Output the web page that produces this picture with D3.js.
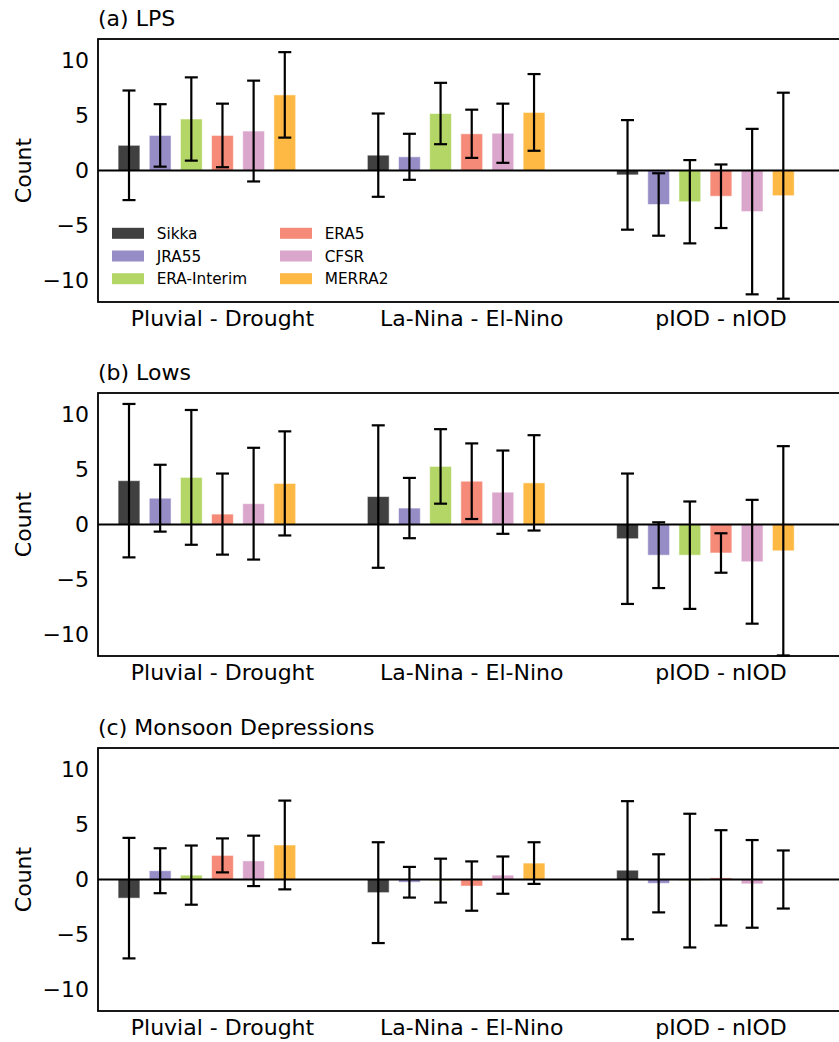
<!DOCTYPE html>
<html>
<head>
<meta charset="utf-8">
<script src="https://cdn.jsdelivr.net/npm/d3@7/dist/d3.min.js"></script>
<style>
  html, body { margin: 0; padding: 0; background: #fff; }
  svg { display: block; font-family: "DejaVu Sans", sans-serif; }
</style>
</head>
<body>
<svg id="chart" width="839" height="1042"></svg>
<script>
// Composite differences (count) for each dataset and contrast
const datasets = ["Sikka", "JRA55", "ERA-Interim", "ERA5", "CFSR", "MERRA2"];
const colors = ["#404040", "#968cc6", "#b3d667", "#f58a78", "#daa6cc", "#fdb943"];
const contrasts = ["Pluvial - Drought", "La-Nina - El-Nino", "pIOD - nIOD"];
const panelTitles = ["(a) LPS", "(b) Lows", "(c) Monsoon Depressions"];
const yTicks = [10, 5, 0, -5, -10];

// mean differences: one row per contrast, one value per dataset
const lpsMean = [
  [2.3, 3.2, 4.7, 3.2, 3.6, 6.9],
  [1.4, 1.25, 5.2, 3.35, 3.4, 5.3],
  [-0.4, -3.1, -2.85, -2.35, -3.75, -2.3]
];
const lpsErr = [
  [5.0, 2.85, 3.8, 2.9, 4.6, 3.9],
  [3.8, 2.1, 2.8, 2.2, 2.7, 3.5],
  [5.0, 2.85, 3.8, 2.9, 7.55, 9.4]
];
const lowsMean = [
  [4.0, 2.4, 4.3, 0.95, 1.9, 3.75],
  [2.55, 1.5, 5.3, 3.95, 2.95, 3.8],
  [-1.3, -2.8, -2.8, -2.6, -3.4, -2.4]
];
const lowsErr = [
  [7.0, 3.05, 6.15, 3.7, 5.1, 4.75],
  [6.5, 2.75, 3.4, 3.45, 3.8, 4.35],
  [5.95, 3.0, 4.9, 1.8, 5.65, 9.55]
];
const mdMean = [
  [-1.7, 0.8, 0.4, 2.2, 1.7, 3.15],
  [-1.2, -0.25, -0.1, -0.6, 0.4, 1.5],
  [0.85, -0.35, -0.1, 0.15, -0.4, 0.0]
];
const mdErr = [
  [5.5, 2.05, 2.7, 1.55, 2.3, 4.05],
  [4.6, 1.4, 2.0, 2.25, 1.7, 1.9],
  [6.3, 2.65, 6.1, 4.35, 4.0, 2.65]
];

const panels = [
  { title: panelTitles[0], mean: lpsMean, err: lpsErr, top: 39, legend: true },
  { title: panelTitles[1], mean: lowsMean, err: lowsErr, top: 393, legend: false },
  { title: panelTitles[2], mean: mdMean, err: mdErr, top: 748, legend: false }
];

const svg = d3.select("#chart");
const plotLeft = 98, plotRight = 850, plotHeight = 263;
const slotsPerGroup = 8;
const labelSlot = 3; // category tick sits on the fourth bar of each group

// bar slot positions: group g, dataset k -> slot g*8 + k
const x = d3.scaleLinear().domain([0, 21]).range([129, 783.3]);
const slotW = x(1) - x(0);
const barW = slotW * 0.7;
const capW = 13;

panels.forEach(p => {
  const y = d3.scaleLinear().domain([-12, 12]).range([p.top + plotHeight, p.top]);
  const g = svg.append("g");

  // panel title
  g.append("text")
    .attr("x", plotLeft).attr("y", p.top - 13)
    .attr("font-size", 22).attr("fill", "#000")
    .text(p.title);

  // bars
  p.mean.forEach((row, gi) => {
    row.forEach((v, k) => {
      const cx = x(gi * slotsPerGroup + k);
      g.append("rect")
        .attr("x", cx - barW / 2)
        .attr("y", Math.min(y(v), y(0)))
        .attr("width", barW)
        .attr("height", Math.abs(y(v) - y(0)))
        .attr("fill", colors[k])
        .attr("stroke", "rgba(255,255,255,0.55)")
        .attr("stroke-width", 1);
    });
  });

  // zero line
  g.append("line")
    .attr("x1", plotLeft).attr("x2", plotRight)
    .attr("y1", y(0)).attr("y2", y(0))
    .attr("stroke", "#000").attr("stroke-width", 2);

  // error bars
  p.mean.forEach((row, gi) => {
    row.forEach((v, k) => {
      const cx = x(gi * slotsPerGroup + k);
      const e = p.err[gi][k];
      const eb = g.append("g").attr("stroke", "#000").attr("stroke-width", 2.2);
      eb.append("line").attr("x1", cx).attr("x2", cx).attr("y1", y(v + e)).attr("y2", y(v - e));
      [v + e, v - e].forEach(t => {
        eb.append("line")
          .attr("x1", cx - capW / 2).attr("x2", cx + capW / 2)
          .attr("y1", y(t)).attr("y2", y(t));
      });
    });
  });

  // frame
  g.append("rect")
    .attr("x", plotLeft).attr("y", p.top)
    .attr("width", plotRight - plotLeft).attr("height", plotHeight)
    .attr("fill", "none").attr("stroke", "#000").attr("stroke-width", 1.8);

  // y tick labels
  const yAxis = d3.axisLeft(y).tickValues(yTicks).tickSize(0).tickPadding(9)
    .tickFormat(d => d < 0 ? "\u2212" + Math.abs(d) : String(d));
  const ya = g.append("g").attr("transform", `translate(${plotLeft},0)`).call(yAxis);
  ya.select(".domain").remove();
  ya.selectAll("text").attr("font-size", 22).attr("font-family", "DejaVu Sans").attr("fill", "#000");

  // category labels
  contrasts.forEach((c, gi) => {
    g.append("text")
      .attr("x", x(gi * slotsPerGroup + labelSlot))
      .attr("y", p.top + plotHeight + 24)
      .attr("text-anchor", "middle")
      .attr("font-size", 22).attr("fill", "#000")
      .text(c);
  });

  // y label
  g.append("text")
    .attr("transform", `translate(31,${p.top + plotHeight / 2}) rotate(-90)`)
    .attr("text-anchor", "middle")
    .attr("font-size", 22).attr("fill", "#000")
    .text("Count");

  // legend
  if (p.legend) {
    const lg = g.append("g");
    datasets.forEach((d, i) => {
      const col = Math.floor(i / 3), row = i % 3;
      const lx = 112 + col * 168, ly = 233.3 + row * 22.7;
      lg.append("rect")
        .attr("x", lx).attr("y", ly - 5.5)
        .attr("width", 32).attr("height", 11)
        .attr("fill", colors[i]);
      lg.append("text")
        .attr("x", lx + 44.7).attr("y", ly)
        .attr("dy", "0.36em")
        .attr("font-size", 15.3).attr("fill", "#000")
        .text(d);
    });
  }
});
</script>
</body>
</html>
